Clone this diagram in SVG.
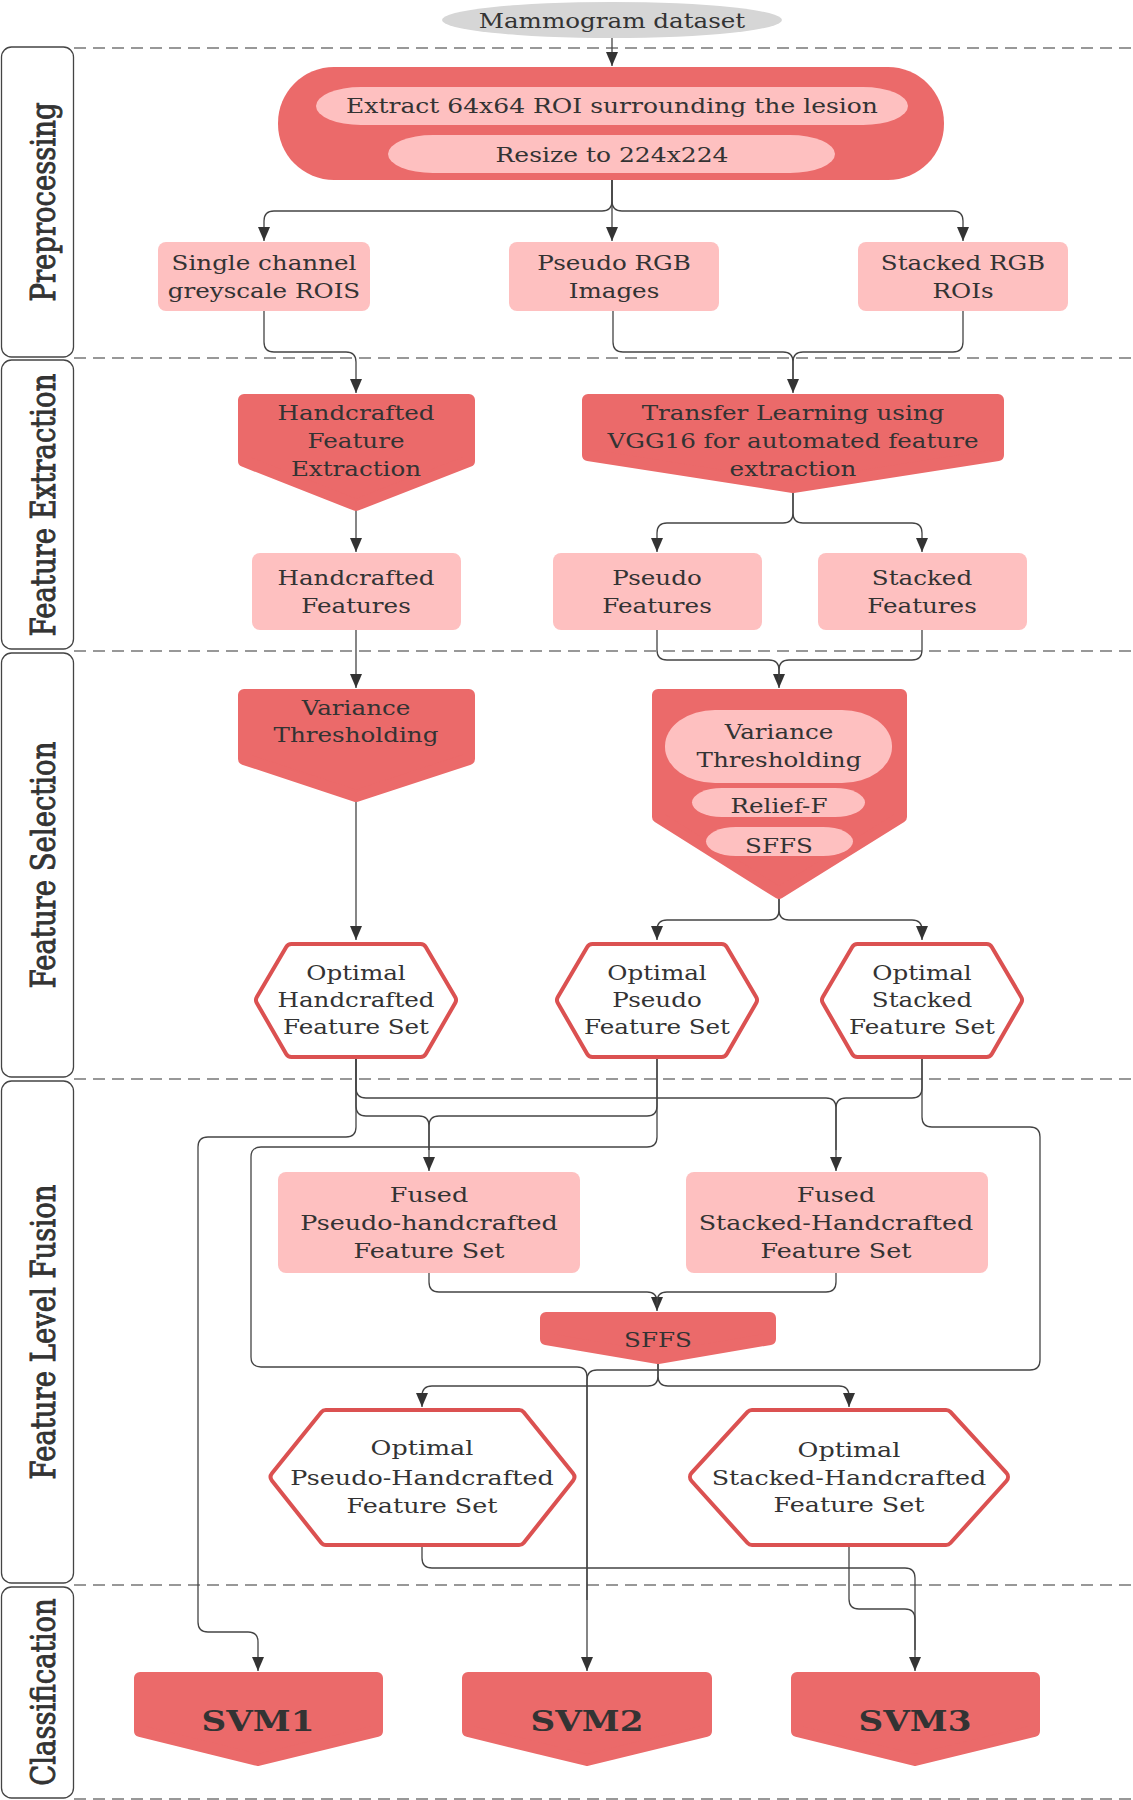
<svg xmlns="http://www.w3.org/2000/svg" width="1133" height="1800" viewBox="0 0 1133 1800">
<defs>
<style>
.t{font-family:"DejaVu Serif","Liberation Serif",serif;font-size:20.5px;fill:#333;text-anchor:middle}
.svm{font-family:"DejaVu Serif","Liberation Serif",serif;font-size:28.5px;font-weight:bold;fill:#333;text-anchor:middle}
.lane{font-family:"DejaVu Serif","Liberation Serif",serif;font-size:27.5px;fill:#333;stroke:#333;stroke-width:0.8;text-anchor:middle}
.lbox{fill:#fff;stroke:#444;stroke-width:1.3}
.dash{stroke:#777;stroke-width:1.5;stroke-dasharray:12 7;fill:none}
.red{fill:#EB6A6A;stroke:#EB6A6A;stroke-width:12;stroke-linejoin:round}
.redr{fill:#EB6A6A}
.pink{fill:#FEC0C0}
.hexo{fill:#DB5151;stroke:#DB5151;stroke-width:16;stroke-linejoin:round}
.hexi{fill:#fff;stroke:#fff;stroke-width:8;stroke-linejoin:round}
.c{fill:none;stroke:#444;stroke-width:1.3}
.a{marker-end:url(#arr)}
</style>
<marker id="arr" markerUnits="userSpaceOnUse" markerWidth="14" markerHeight="12" refX="14" refY="6" orient="auto">
<path d="M0,0 L14,6 L0,12 Z" fill="#333"/>
</marker>
</defs>
<rect x="0" y="0" width="1133" height="1800" fill="#fff"/>

<g id="lanes">
<line class="dash" x1="74" y1="48" x2="1133" y2="48"/>
<line class="dash" x1="74" y1="358" x2="1133" y2="358"/>
<line class="dash" x1="74" y1="651" x2="1133" y2="651"/>
<line class="dash" x1="74" y1="1079" x2="1133" y2="1079"/>
<line class="dash" x1="74" y1="1585" x2="1133" y2="1585"/>
<line class="dash" x1="74" y1="1799" x2="1133" y2="1799"/>
<g id="lane-preprocessing"><rect class="lbox" x="1.5" y="47" width="72" height="310" rx="10"/><text class="lane" transform="translate(55,202) rotate(-90) scale(1,1.2)">Preprocessing</text></g>
<g id="lane-extraction"><rect class="lbox" x="1.5" y="360" width="72" height="289" rx="10"/><text class="lane" transform="translate(55,505) rotate(-90) scale(1,1.2)">Feature Extraction</text></g>
<g id="lane-selection"><rect class="lbox" x="1.5" y="653" width="72" height="424" rx="10"/><text class="lane" transform="translate(55,865) rotate(-90) scale(1,1.2)">Feature Selection</text></g>
<g id="lane-fusion"><rect class="lbox" x="1.5" y="1081" width="72" height="502" rx="10"/><text class="lane" transform="translate(55,1332) rotate(-90) scale(1,1.2)">Feature Level Fusion</text></g>
<g id="lane-classification"><rect class="lbox" x="1.5" y="1587" width="72" height="211" rx="10"/><text class="lane" transform="translate(55,1692) rotate(-90) scale(1,1.2)">Classification</text></g>
</g>

<g id="connectors">
<path class="c a" d="M612,38 V66"/>
<path class="c a" d="M612,180 V241"/>
<path class="c a" d="M612,180 V201 Q612,211 602,211 H274 Q264,211 264,221 V241"/>
<path class="c a" d="M612,180 V201 Q612,211 622,211 H953 Q963,211 963,221 V241"/>
<path class="c a" d="M264,311 V342 Q264,352 274,352 H346 Q356,352 356,362 V393"/>
<path class="c a" d="M613,311 V342 Q613,352 623,352 H783 Q793,352 793,362 V393"/>
<path class="c" d="M963,311 V342 Q963,352 953,352 H803 Q793,352 793,362 V380"/>
<path class="c a" d="M356,510 V552"/>
<path class="c a" d="M793,492 V513 Q793,523 783,523 H667 Q657,523 657,533 V552"/>
<path class="c a" d="M793,492 V513 Q793,523 803,523 H912 Q922,523 922,533 V552"/>
<path class="c a" d="M356,630 V688"/>
<path class="c a" d="M657,630 V650 Q657,660 667,660 H769 Q779,660 779,670 V688"/>
<path class="c" d="M922,630 V650 Q922,660 912,660 H789 Q779,660 779,670 V680"/>
<path class="c a" d="M356,801 V940"/>
<path class="c a" d="M779,898 V910 Q779,920 769,920 H667 Q657,920 657,930 V940"/>
<path class="c a" d="M779,898 V910 Q779,920 789,920 H912 Q922,920 922,930 V940"/>
<path class="c a" d="M356,1059 V1088 Q356,1098 366,1098 H826 Q836,1098 836,1108 V1171"/>
<path class="c" d="M922,1059 V1088 Q922,1098 912,1098 H846 Q836,1098 836,1108 V1150"/>
<path class="c a" d="M356,1059 V1106 Q356,1116 366,1116 H419 Q429,1116 429,1126 V1171"/>
<path class="c" d="M657,1059 V1106 Q657,1116 647,1116 H439 Q429,1116 429,1126 V1150"/>
<path class="c a" d="M356,1059 V1127 Q356,1137 346,1137 H208 Q198,1137 198,1147 V1622 Q198,1632 208,1632 H248 Q258,1632 258,1642 V1671"/>
<path class="c a" d="M657,1059 V1137 Q657,1147 647,1147 H261 Q251,1147 251,1157 V1357 Q251,1367 261,1367 H577 Q587,1367 587,1377 V1671"/>
<path class="c" d="M922,1059 V1117 Q922,1127 932,1127 H1030 Q1040,1127 1040,1137 V1360 Q1040,1370 1030,1370 H597 Q587,1370 587,1380 V1600"/>
<path class="c a" d="M429,1273 V1282 Q429,1292 439,1292 H647 Q657,1292 657,1302 V1311"/>
<path class="c" d="M836,1273 V1282 Q836,1292 826,1292 H667 Q657,1292 657,1302 V1306"/>
<path class="c a" d="M658,1363 V1376 Q658,1386 648,1386 H432 Q422,1386 422,1396 V1407"/>
<path class="c a" d="M658,1363 V1376 Q658,1386 668,1386 H839 Q849,1386 849,1396 V1407"/>
<path class="c a" d="M422,1547 V1558 Q422,1568 432,1568 H905 Q915,1568 915,1578 V1671"/>
<path class="c" d="M849,1547 V1599 Q849,1609 859,1609 H905 Q915,1609 915,1619 V1650"/>
</g>

<g id="node-dataset">
<ellipse cx="612" cy="20" rx="170" ry="18" fill="#D6D6D6"/>
<text class="t" transform="translate(612,28) scale(1.2,1)">Mammogram dataset</text>
</g>

<g id="node-preprocess">
<rect class="redr" x="278" y="67" width="666" height="113" rx="56"/>
<rect class="pink" x="316" y="87" width="592" height="38" rx="45" ry="19"/>
<rect class="pink" x="388" y="135" width="447" height="38" rx="45" ry="19"/>
<text class="t" transform="translate(612,113) scale(1.22,1)">Extract 64x64 ROI surrounding the lesion</text>
<text class="t" transform="translate(612,162) scale(1.22,1)">Resize to 224x224</text>
</g>

<g id="node-single">
<rect class="pink" x="158" y="242" width="212" height="69" rx="8"/>
<text class="t" transform="translate(264,0) scale(1.2,1)"><tspan x="0" y="270">Single channel</tspan><tspan x="0" y="298">greyscale ROIS</tspan></text>
</g>
<g id="node-pseudo-rgb">
<rect class="pink" x="509" y="242" width="210" height="69" rx="8"/>
<text class="t" transform="translate(614,0) scale(1.2,1)"><tspan x="0" y="270">Pseudo RGB</tspan><tspan x="0" y="298">Images</tspan></text>
</g>
<g id="node-stacked-rgb">
<rect class="pink" x="858" y="242" width="210" height="69" rx="8"/>
<text class="t" transform="translate(963,0) scale(1.2,1)"><tspan x="0" y="270">Stacked RGB</tspan><tspan x="0" y="298">ROIs</tspan></text>
</g>

<g id="node-hand-extract">
<polygon class="red" points="244,400 469,400 469,461 356,505 244,461"/>
<text class="t" transform="translate(356,0) scale(1.2,1)"><tspan x="0" y="420">Handcrafted</tspan><tspan x="0" y="448">Feature</tspan><tspan x="0" y="476">Extraction</tspan></text>
</g>
<g id="node-transfer">
<polygon class="red" points="588,400 998,400 998,455 793,487 588,455"/>
<text class="t" transform="translate(793,0) scale(1.2,1)"><tspan x="0" y="420">Transfer Learning using</tspan><tspan x="0" y="448">VGG16 for automated feature</tspan><tspan x="0" y="476">extraction</tspan></text>
</g>

<g id="node-hand-features">
<rect class="pink" x="252" y="553" width="209" height="77" rx="8"/>
<text class="t" transform="translate(356,0) scale(1.2,1)"><tspan x="0" y="585">Handcrafted</tspan><tspan x="0" y="613">Features</tspan></text>
</g>
<g id="node-pseudo-features">
<rect class="pink" x="553" y="553" width="209" height="77" rx="8"/>
<text class="t" transform="translate(657,0) scale(1.2,1)"><tspan x="0" y="585">Pseudo</tspan><tspan x="0" y="613">Features</tspan></text>
</g>
<g id="node-stacked-features">
<rect class="pink" x="818" y="553" width="209" height="77" rx="8"/>
<text class="t" transform="translate(922,0) scale(1.2,1)"><tspan x="0" y="585">Stacked</tspan><tspan x="0" y="613">Features</tspan></text>
</g>

<g id="node-variance-left">
<polygon class="red" points="244,695 469,695 469,759 356,796 244,759"/>
<text class="t" transform="translate(356,0) scale(1.2,1)"><tspan x="0" y="715">Variance</tspan><tspan x="0" y="742">Thresholding</tspan></text>
</g>
<g id="node-selection-right">
<polygon class="red" points="658,695 901,695 901,817 779,893 658,817"/>
<rect class="pink" x="665" y="710" width="227" height="73" rx="50" ry="36"/>
<rect class="pink" x="692" y="788" width="173" height="29" rx="30" ry="14.5"/>
<rect class="pink" x="706" y="827" width="147" height="29" rx="30" ry="14.5"/>
<text class="t" transform="translate(779,0) scale(1.2,1)"><tspan x="0" y="739">Variance</tspan><tspan x="0" y="767">Thresholding</tspan><tspan x="0" y="813">Relief-F</tspan><tspan x="0" y="853">SFFS</tspan></text>
</g>

<g id="node-opt-hand">
<polygon class="hexo" points="262,1000 291.4,950 420.6,950 450,1000 420.6,1051 291.4,1051"/>
<polygon class="hexi" points="262,1000 291.4,950 420.6,950 450,1000 420.6,1051 291.4,1051"/>
<text class="t" transform="translate(356,0) scale(1.2,1)"><tspan x="0" y="980">Optimal</tspan><tspan x="0" y="1007">Handcrafted</tspan><tspan x="0" y="1034">Feature Set</tspan></text>
</g>
<g id="node-opt-pseudo">
<polygon class="hexo" points="563,1000 592.4,950 721.6,950 751,1000 721.6,1051 592.4,1051"/>
<polygon class="hexi" points="563,1000 592.4,950 721.6,950 751,1000 721.6,1051 592.4,1051"/>
<text class="t" transform="translate(657,0) scale(1.2,1)"><tspan x="0" y="980">Optimal</tspan><tspan x="0" y="1007">Pseudo</tspan><tspan x="0" y="1034">Feature Set</tspan></text>
</g>
<g id="node-opt-stacked">
<polygon class="hexo" points="828,1000 857.4,950 986.6,950 1016,1000 986.6,1051 857.4,1051"/>
<polygon class="hexi" points="828,1000 857.4,950 986.6,950 1016,1000 986.6,1051 857.4,1051"/>
<text class="t" transform="translate(922,0) scale(1.2,1)"><tspan x="0" y="980">Optimal</tspan><tspan x="0" y="1007">Stacked</tspan><tspan x="0" y="1034">Feature Set</tspan></text>
</g>

<g id="node-fused-pseudo">
<rect class="pink" x="278" y="1172" width="302" height="101" rx="8"/>
<text class="t" transform="translate(429,0) scale(1.24,1)"><tspan x="0" y="1202">Fused</tspan><tspan x="0" y="1230">Pseudo-handcrafted</tspan><tspan x="0" y="1258">Feature Set</tspan></text>
</g>
<g id="node-fused-stacked">
<rect class="pink" x="686" y="1172" width="302" height="101" rx="8"/>
<text class="t" transform="translate(836,0) scale(1.24,1)"><tspan x="0" y="1202">Fused</tspan><tspan x="0" y="1230">Stacked-Handcrafted</tspan><tspan x="0" y="1258">Feature Set</tspan></text>
</g>

<g id="node-sffs">
<polygon class="red" points="546,1318 770,1318 770,1339 658,1358 546,1339"/>
<text class="t" transform="translate(658,1347) scale(1.2,1)">SFFS</text>
</g>

<g id="node-opt-pseudo-hand">
<polygon class="hexo" points="276.7,1477 325.9,1416 519.1,1416 568.3,1477 519.1,1539 325.9,1539"/>
<polygon class="hexi" points="276.7,1477 325.9,1416 519.1,1416 568.3,1477 519.1,1539 325.9,1539"/>
<text class="t" transform="translate(422,0) scale(1.24,1)"><tspan x="0" y="1455">Optimal</tspan><tspan x="0" y="1485">Pseudo-Handcrafted</tspan><tspan x="0" y="1513">Feature Set</tspan></text>
</g>
<g id="node-opt-stacked-hand">
<polygon class="hexo" points="696,1477 752,1416 946,1416 1002,1477 946,1539 752,1539"/>
<polygon class="hexi" points="696,1477 752,1416 946,1416 1002,1477 946,1539 752,1539"/>
<text class="t" transform="translate(849,0) scale(1.24,1)"><tspan x="0" y="1457">Optimal</tspan><tspan x="0" y="1485">Stacked-Handcrafted</tspan><tspan x="0" y="1512">Feature Set</tspan></text>
</g>

<g id="node-svm1">
<polygon class="red" points="140,1678 377,1678 377,1731 258,1760 140,1731"/>
<text class="svm" transform="translate(258,1731) scale(1.2,1)">SVM1</text>
</g>
<g id="node-svm2">
<polygon class="red" points="468,1678 706,1678 706,1731 587,1760 468,1731"/>
<text class="svm" transform="translate(587,1731) scale(1.2,1)">SVM2</text>
</g>
<g id="node-svm3">
<polygon class="red" points="797,1678 1034,1678 1034,1731 915,1760 797,1731"/>
<text class="svm" transform="translate(915,1731) scale(1.2,1)">SVM3</text>
</g>
</svg>
